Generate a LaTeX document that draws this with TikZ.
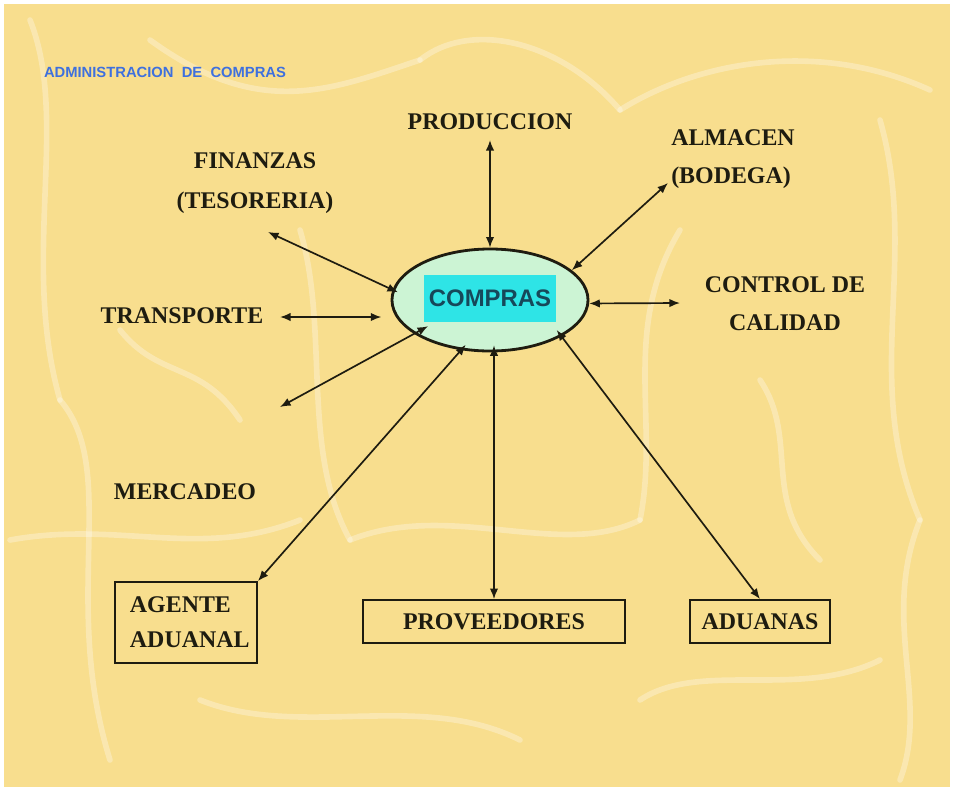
\documentclass[tikz,border=0pt]{standalone}
\usepackage{fontspec}
\setmainfont{Liberation Serif}
\newfontfamily\arialfont{Liberation Sans}
\usetikzlibrary{shapes.geometric,arrows.meta}
\definecolor{fondo}{RGB}{248,222,142}
\definecolor{tinta}{RGB}{30,28,16}
\definecolor{menta}{RGB}{204,244,212}
\definecolor{cian}{RGB}{46,228,230}
\definecolor{azul}{RGB}{62,112,222}
\definecolor{petroleo}{RGB}{22,72,90}
\tikzset{
  lbl/.style={font=\fontsize{17}{28}\selectfont\bfseries, text=tinta, inner sep=0pt},
  caja/.style={lbl, draw=tinta, line width=1.3pt, inner xsep=0pt},
  flecha/.style={{Latex[length=7.5pt,width=6pt]}-{Latex[length=7.5pt,width=6pt]}, line width=1.2pt, draw=tinta},
  trama/.style={white, opacity=0.3, line width=4pt, line cap=round}
}
\begin{document}
\begin{tikzpicture}[x=0.025cm, y=-0.025cm]
	\useasboundingbox (0,0) rectangle (954,791);
	\fill[white] (0,0) rectangle (954,791);
	\fill[fondo] (4,4) rectangle (950,787);
	% fondo con trama
	\draw[trama] (30,20) .. controls (70,120) and (20,260) .. (60,400);
	\draw[trama] (60,400) .. controls (120,470) and (60,600) .. (110,760);
	\draw[trama] (150,40) .. controls (260,120) and (330,90) .. (420,60);
	\draw[trama] (420,60) .. controls (470,20) and (560,40) .. (620,110);
	\draw[trama] (620,110) .. controls (700,60) and (820,40) .. (930,90);
	\draw[trama] (880,120) .. controls (920,260) and (860,380) .. (920,520);
	\draw[trama] (920,520) .. controls (880,620) and (930,700) .. (900,780);
	\draw[trama] (300,230) .. controls (330,330) and (300,450) .. (350,540);
	\draw[trama] (350,540) .. controls (450,500) and (560,560) .. (640,520);
	\draw[trama] (640,520) .. controls (660,420) and (620,330) .. (680,230);
	\draw[trama] (10,540) .. controls (120,520) and (200,560) .. (300,520);
	\draw[trama] (640,700) .. controls (700,660) and (800,700) .. (880,660);
	\draw[trama] (200,700) .. controls (300,740) and (420,690) .. (520,740);
	\draw[trama] (760,380) .. controls (800,440) and (760,500) .. (820,560);
	\draw[trama] (120,330) .. controls (160,380) and (200,360) .. (240,420);

	\node[font=\arialfont\fontsize{10.5}{12}\selectfont\bfseries, text=azul, inner sep=0pt] (tit) at (165,72) {ADMINISTRACION\ \ DE\ \ COMPRAS};

	% nodo central
	\node[ellipse, draw=tinta, fill=menta, line width=2pt, minimum width=4.9cm, minimum height=2.55cm] (cmp) at (490,300) {};
	\node[fill=cian, minimum width=3.25cm, minimum height=1.175cm, font=\arialfont\fontsize{17}{20}\selectfont\bfseries, text=petroleo] (cmptxt) at (490,298) {COMPRAS};

	% areas
	\node[lbl] (prod) at (490,122) {PRODUCCION};
	\node[lbl, align=center] (fin) at (255,183) {FINANZAS\\(TESORERIA)};
	\node[lbl, align=left, font=\fontsize{17}{27}\selectfont\bfseries] (alm) at (733,159) {ALMACEN\\(BODEGA)};
	\node[lbl, align=center, font=\fontsize{17}{27}\selectfont\bfseries] (ctl) at (785,304) {CONTROL DE\\CALIDAD};
	\node[lbl] (trn) at (182,316) {TRANSPORTE};
	\node[lbl] (mer) at (185,492) {MERCADEO};
	\node[caja, align=left, text width=2.8cm, minimum width=3.55cm, minimum height=2.025cm, font=\fontsize{17}{25}\selectfont\bfseries] (agn) at (186,622.5) {AGENTE\\ADUANAL};
	\node[caja, minimum width=6.55cm, minimum height=1.075cm] (prv) at (494,621.5) {PROVEEDORES};
	\node[caja, minimum width=3.5cm, minimum height=1.075cm] (adu) at (760,621.5) {ADUANAS};

	% extremos libres
	\coordinate (pA) at (490,140);
	\coordinate (aA) at (668,183);
	\coordinate (cA) at (680,303);
	\coordinate (fA) at (268,232);
	\coordinate (tA) at (280,317);
	\coordinate (mA) at (280,407);

	% conectores
	\draw[flecha] (pA) -- (cmp.north);
	\draw[flecha] (cmp.20) -- (aA);
	\draw[flecha] (cmp.-2) -- (cA);
	\draw[flecha, shorten >=-0.15cm] (fA) -- (cmp.174);
	\draw[flecha, shorten >=0.23cm] (tA) -- (tA -| cmp.west);
	\draw[flecha, shorten >=-0.4cm] (mA) -- (cmp.204);
	\draw[flecha, shorten >=-0.18cm] (agn.north east) -- (cmp.240);
	\draw[flecha, shorten >=-0.18cm] (prv.north) -- (prv.north |- cmp.south);
	\draw[flecha, shorten >=-0.2cm] (adu.north) -- (cmp.-27.5);
\end{tikzpicture}
\end{document}
